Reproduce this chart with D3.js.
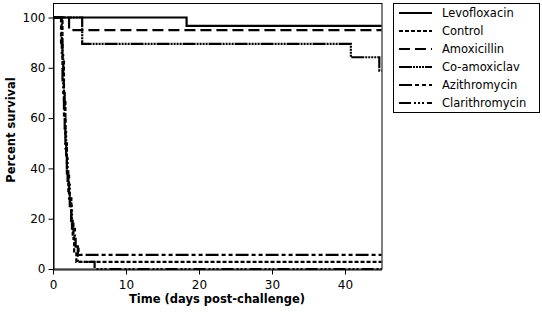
<!DOCTYPE html>
<html>
<head>
<meta charset="utf-8">
<script src="https://cdn.jsdelivr.net/npm/d3@7"></script>
<style>
  body { margin: 0; background: #fff; }
  svg { display: block; font-family: "DejaVu Sans", Verdana, sans-serif; }
</style>
</head>
<body>
<div id="chart"></div>
<script>
// Kaplan-Meier step data (day where the value starts, percent survival)
const seriesNames = ["Levofloxacin", "Control", "Amoxicillin", "Co-amoxiclav", "Azithromycin", "Clarithromycin"];
const levoDays = [0, 18.3, 45];
const levoVals = [100, 96.7, 96.7];
const controlDays = [0, 1.3, 1.5, 1.7, 1.9, 2.1, 2.3, 2.5, 2.7, 2.9, 3.2, 45];
const controlVals = [100, 83, 67, 50, 40, 31, 28, 20, 13, 7, 2.8, 2.8];
const amoxDays = [0, 2.2, 45];
const amoxVals = [100, 95, 95];
const coamoxDays = [0, 4.0, 40.8, 44.7, 45];
const coamoxVals = [100, 89.5, 84.2, 78.9, 78.9];
const azithroDays = [0, 1.1, 1.3, 1.5, 1.7, 1.9, 2.2, 2.5, 2.8, 3.1, 3.5, 45];
const azithroVals = [100, 90, 75, 60, 48, 38, 28, 18, 12, 8, 5.6, 5.6];
const clariDays = [0, 1.2, 1.4, 1.6, 1.8, 2.0, 2.3, 2.6, 3.0, 3.4, 5.7, 45];
const clariVals = [100, 85, 70, 55, 44, 35, 25, 16, 9, 2.8, 0, 0];
const xTicks = [0, 10, 20, 30, 40];
const yTicks = [0, 20, 40, 60, 80, 100];

const dashes = {
    "Levofloxacin": null,
    "Control": "4,2",
    "Amoxicillin": "11,5",
    "Co-amoxiclav": "13,1,2,1,2,1,2,1,2,1",
    "Azithromycin": "13,3,4,3,4,3",
    "Clarithromycin": "12,3,2,2,2,2,2,3"
};

const allData = [
    [levoDays, levoVals], [controlDays, controlVals], [amoxDays, amoxVals],
    [coamoxDays, coamoxVals], [azithroDays, azithroVals], [clariDays, clariVals]
].map(([d, v], i) => ({
    name: seriesNames[i],
    points: d.map((day, j) => ({ day: day, val: v[j] }))
}));

const width = 542, height = 313;
const svg = d3.select("#chart").append("svg")
    .attr("width", width)
    .attr("height", height);

const x = d3.scaleLinear().domain([0, 45]).range([53, 381.5]);
const y = d3.scaleLinear().domain([0, 100]).range([269, 17.5]);

// frame around plot
svg.append("rect")
    .attr("x", 53.5).attr("y", 3.5)
    .attr("width", 328.5).attr("height", 265.5)
    .attr("fill", "none").attr("stroke", "#000").attr("stroke-width", 1);

// axes
const xAxis = svg.append("g")
    .attr("transform", "translate(0,269.5)")
    .call(d3.axisBottom(x).tickValues(xTicks).tickSize(5).tickSizeOuter(0));
const yAxis = svg.append("g")
    .attr("transform", "translate(53.5,0)")
    .call(d3.axisLeft(y).tickValues(yTicks).tickSize(5).tickSizeOuter(0));
[xAxis, yAxis].forEach(g => {
    g.selectAll("path, line").attr("stroke", "#000");
    g.selectAll("text").attr("fill", "#000").style("font-size", "12px")
        .style("font-family", "'DejaVu Sans', Verdana, sans-serif");
});
xAxis.selectAll("text").attr("dy", "0.95em");

// survival curves
const line = d3.line()
    .curve(d3.curveStepAfter)
    .x(d => x(d.day))
    .y(d => y(d.val));

allData.forEach(s => {
    svg.append("path")
        .datum(s.points)
        .attr("fill", "none")
        .attr("stroke", "#000")
        .attr("stroke-width", 2.2)
        .attr("stroke-dasharray", dashes[s.name])
        .attr("d", line);
});

// axis titles
svg.append("text")
    .attr("x", 217).attr("y", 303)
    .attr("text-anchor", "middle")
    .style("font-size", "11.5px").style("font-weight", "bold")
    .text("Time (days post-challenge)");

svg.append("text")
    .attr("transform", "rotate(-90)")
    .attr("x", -130).attr("y", 15)
    .attr("text-anchor", "middle")
    .style("font-size", "11.5px").style("font-weight", "bold")
    .text("Percent survival");

// legend
const legend = svg.append("g");
legend.append("rect")
    .attr("x", 393.5).attr("y", 3.5)
    .attr("width", 146).attr("height", 109)
    .attr("fill", "#fff").attr("stroke", "#000");

seriesNames.forEach((name, i) => {
    const ly = 13 + i * 18;
    legend.append("line")
        .attr("x1", 399).attr("x2", 432)
        .attr("y1", ly).attr("y2", ly)
        .attr("stroke", "#000").attr("stroke-width", 2.2)
        .attr("stroke-dasharray", dashes[name]);
    legend.append("text")
        .attr("x", 442).attr("y", ly)
        .attr("dy", "0.35em")
        .style("font-size", "11.5px")
        .text(name);
});
</script>
</body>
</html>
